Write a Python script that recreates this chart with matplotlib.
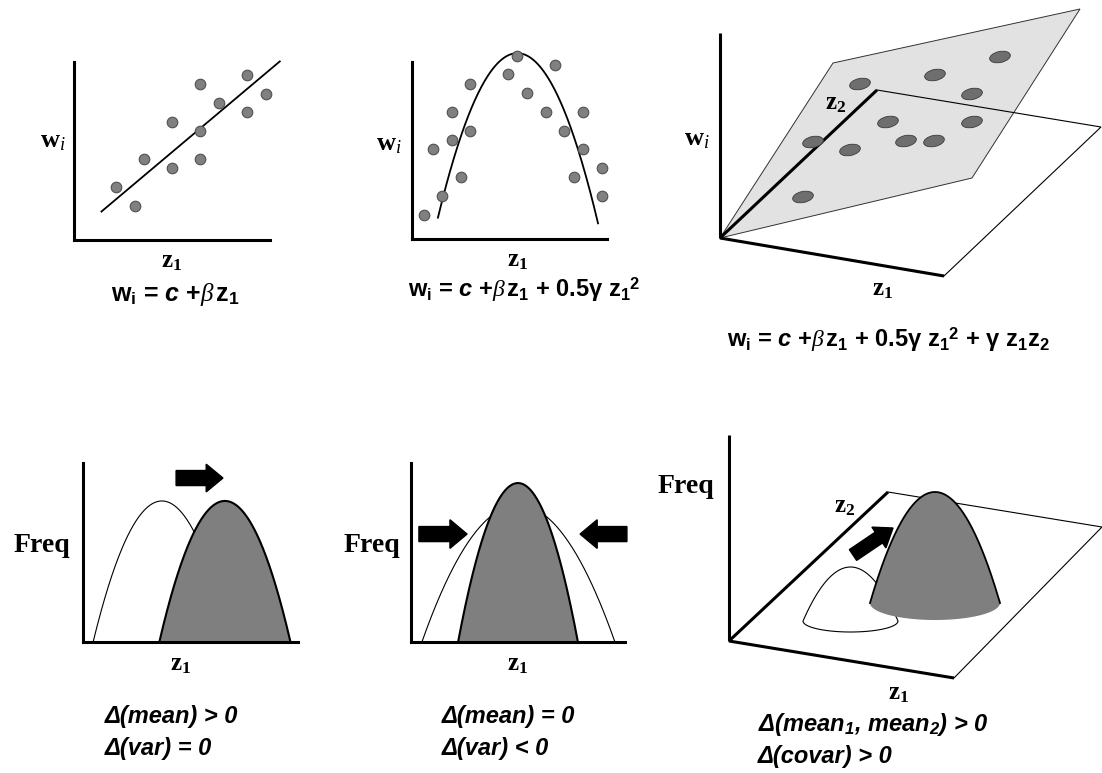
import numpy as np
import matplotlib.pyplot as plt
from matplotlib.patches import Polygon, Ellipse, FancyArrow

plt.rcParams['mathtext.fontset'] = 'custom'
plt.rcParams['mathtext.rm'] = 'Liberation Serif'
plt.rcParams['mathtext.it'] = 'Liberation Serif:italic'
plt.rcParams['mathtext.bf'] = 'Liberation Serif:bold'
plt.rcParams['mathtext.sf'] = 'Liberation Sans:italic:bold'

# ---- data ----
# linear selection: z1, w
lin_z1 = [2.14, 3.11, 3.57, 5.0, 5.0, 6.43, 6.43, 6.43, 7.40, 8.83, 8.83, 9.80]
lin_w = [2.98, 1.91, 4.55, 6.63, 4.04, 8.76, 6.12, 4.55, 7.70, 9.27, 7.19, 8.20]
lin_c, lin_beta = 0.30, 0.927
lin_span = [1.4, 10.5]

# quadratic (stabilising) selection
quad_z1 = [0.62, 1.08, 1.54, 2.05, 2.05, 2.51, 2.97, 2.97, 4.92, 5.38,
           5.90, 6.87, 7.33, 7.79, 8.77, 8.77, 8.31, 9.74, 9.74]
quad_w = [1.36, 5.08, 2.43, 7.18, 5.59, 3.50, 8.76, 6.10, 9.32, 10.34,
          8.25, 7.18, 9.83, 6.10, 7.18, 5.08, 3.50, 4.01, 2.43]
quad_peak_z, quad_peak_w, quad_curv = 5.4, 10.5, 0.561
quad_span = [1.33, 9.54]

# correlational selection: dots on the fitted surface (projected view)
surf_u = [140, 280, 215, 252, 168, 252, 93, 130, 186, 214, 83]
surf_v = [154, 181, 163, 144, 116, 116, 96, 88, 97, 97, 41]

# distributions: (centre, half width, height)
dir_before = (3.67, 3.2, 7.88)
dir_after = (6.6, 3.05, 7.88)
stab_before = (5.02, 4.51, 7.65)
stab_after = (5.0, 2.8, 8.88)
# 2D distributions in projected view: (centre u, half width, base v, height, base depth)
corr_before = (121.5, 47.5, 20, 54, 11)
corr_after = (206, 65, 38, 111, 17)

formulas = [r"w$_\mathregular{i}$ = $\mathsf{c}$ +$\beta\,$z$_\mathregular{1}$",
            r"w$_\mathregular{i}$ = $\mathsf{c}$ +$\beta\,$z$_\mathregular{1}$ + 0.5γ z$_\mathregular{1}$$^\mathregular{2}$",
            r"w$_\mathregular{i}$ = $\mathsf{c}$ +$\beta\,$z$_\mathregular{1}$ + 0.5γ z$_\mathregular{1}$$^\mathregular{2}$ + γ z$_\mathregular{1}$z$_\mathregular{2}$"]
changes = [["Δ(mean) > 0", "Δ(var) = 0"],
           ["Δ(mean) = 0", "Δ(var) < 0"],
           [r"Δ(mean$_\mathregular{1}$, mean$_\mathregular{2}$) > 0", "Δ(covar) > 0"]]

W, H = 1102, 773
fig = plt.figure(figsize=(W / 100, H / 100), dpi=100)

GRAY = '#7f7f7f'


def box(x0, y0, x1, y1):
    return fig.add_axes([x0 / W, 1 - y1 / H, (x1 - x0) / W, (y1 - y0) / H])


def label(px, py, s, **kw):
    kw.setdefault('ha', 'center')
    kw.setdefault('va', 'center')
    fig.text(px / W, 1 - py / H, s, **kw)


def plain_axes(ax):
    ax.set_xlim(0, 10)
    ax.set_ylim(0, 10)
    ax.set_xticks([])
    ax.set_yticks([])
    ax.patch.set_alpha(0)
    for s in ['top', 'right']:
        ax.spines[s].set_visible(False)
    for s in ['left', 'bottom']:
        ax.spines[s].set_linewidth(2.2)


def hump(c, hw, h, n=200):
    x = np.linspace(c - hw, c + hw, n)
    return x, h * (1 - ((x - c) / hw) ** 2)


def serif(px, py, s, size=18):
    label(px, py, s, fontsize=size)


def formula(px, py, s, size=17):
    label(px, py, s, family='Liberation Sans', weight='bold', fontsize=size)


def change_text(px, py, lines, gap=31):
    for i, s in enumerate(lines):
        label(px, py + i * gap, s, ha='left', family='Liberation Sans',
              weight='bold', style='italic', fontsize=17)


dot_kw = dict(s=58, c='#808080', edgecolors='#505050', linewidths=0.8,
              zorder=3, clip_on=False)

# ---- panel 1: linear ----
ax = box(74, 62, 270, 240)
plain_axes(ax)
ax.scatter(lin_z1, lin_w, **dot_kw)
zz = np.array(lin_span)
ax.plot(zz, lin_c + lin_beta * zz, color='k', lw=1.3, clip_on=False)
serif(53, 140, r"$\mathbf{w}_i$", 19)
serif(172, 261, r"$\mathbf{z}_\mathbf{1}$")
formula(175, 295, formulas[0], 18)

# ---- panel 2: quadratic ----
ax = box(412, 62, 607, 239)
plain_axes(ax)
ax.scatter(quad_z1, quad_w, **dot_kw)
zz = np.linspace(*quad_span, 200)
ax.plot(zz, quad_peak_w - quad_curv * (zz - quad_peak_z) ** 2, color='k',
        lw=1.3, clip_on=False)
serif(389, 143, r"$\mathbf{w}_i$", 19)
serif(518, 260, r"$\mathbf{z}_\mathbf{1}$")
formula(524, 290, formulas[1])

# ---- panel 3: correlational surface ----
ax = box(690, 0, 1102, 300)
ax.set_xlim(-30, 382)
ax.set_ylim(-62, 238)
ax.axis('off')
ax.add_patch(Polygon([(0, 0), (113, 175), (360, 229), (252, 60)],
                     closed=True, fc='#e2e2e2', ec='#333333', lw=0.7))
ax.add_patch(Polygon([(0, 0), (224, -38), (381, 111), (157, 148)],
                     closed=True, fill=False, ec='k', lw=0.8))
ax.plot([0, 0], [0, 205], color='k', lw=2.2, solid_capstyle='butt')
ax.plot([0, 224], [0, -38], color='k', lw=2.2, solid_capstyle='butt')
ax.plot([0, 157], [0, 148], color='k', lw=2.2, solid_capstyle='butt')
for u, v in zip(surf_u, surf_v):
    ax.add_patch(Ellipse((u, v), 21, 11, angle=12, fc='#6e6e6e', ec='#3a3a3a',
                         lw=0.6, zorder=3))
serif(697, 138, r"$\mathbf{w}_i$", 19)
serif(836, 103, r"$\mathbf{z}_\mathbf{2}$")
serif(883, 289, r"$\mathbf{z}_\mathbf{1}$")
formula(888, 340, formulas[2])

# ---- panel 4: directional ----
ax = box(83, 463, 298, 642)
plain_axes(ax)
x, y = hump(*dir_before)
ax.plot(x, y, color='k', lw=0.8, zorder=1)
x, y = hump(*dir_after)
ax.fill_between(x, 0, y, fc=GRAY, ec='none', zorder=2)
ax.plot(x, y, color='k', lw=1.5, zorder=3)
ax.add_patch(FancyArrow(4.33, 9.16, 2.18, 0, width=0.84, head_width=1.55,
                        head_length=0.78, length_includes_head=True,
                        color='k', clip_on=False))
label(42, 546, "Freq", family='Liberation Serif', weight='bold', fontsize=20)
serif(181, 664, r"$\mathbf{z}_\mathbf{1}$")
change_text(105, 717, changes[0])

# ---- panel 5: stabilising ----
ax = box(411, 463, 625, 642)
plain_axes(ax)
x, y = hump(*stab_before)
ax.plot(x, y, color='k', lw=0.8, zorder=1)
x, y = hump(*stab_after)
ax.fill_between(x, 0, y, fc=GRAY, ec='none', zorder=2)
ax.plot(x, y, color='k', lw=1.5, zorder=3)
for x0, dx in [(0.37, 2.25), (10.09, -2.19)]:
    ax.add_patch(FancyArrow(x0, 6.03, dx, 0, width=0.84, head_width=1.6,
                            head_length=0.8, length_includes_head=True,
                            color='k', clip_on=False))
label(372, 546, "Freq", family='Liberation Serif', weight='bold', fontsize=20)
serif(518, 664, r"$\mathbf{z}_\mathbf{1}$")
change_text(442, 717, changes[1])

# ---- panel 6: correlational ----
ax = box(690, 420, 1102, 773)
ax.set_xlim(-39, 373)
ax.set_ylim(-132, 221)
ax.axis('off')
ax.add_patch(Polygon([(0, 0), (225, -37), (373, 114), (159, 149)],
                     closed=True, fill=False, ec='k', lw=0.8))
ax.plot([0, 0], [0, 206], color='k', lw=2.2, solid_capstyle='butt')
ax.plot([0, 225], [0, -37], color='k', lw=2.2, solid_capstyle='butt')
ax.plot([0, 159], [0, 149], color='k', lw=2.2, solid_capstyle='butt')


def mound(c, hw, base, h, depth):
    x = np.linspace(c - hw, c + hw, 200)
    top = base + h * (1 - ((x - c) / hw) ** 2)
    t = np.linspace(0, np.pi, 100)
    bx = c + hw * np.cos(t)
    by = base - depth * np.sin(t)
    return x, top, np.concatenate([x, bx]), np.concatenate([top, by])


x, top, px_, py_ = mound(*corr_before)
ax.add_patch(Polygon(np.column_stack([px_, py_]), closed=True, fc='white',
                     ec='k', lw=0.8, zorder=2))
x, top, px_, py_ = mound(*corr_after)
ax.add_patch(Polygon(np.column_stack([px_, py_]), closed=True, fc=GRAY,
                     ec='none', zorder=3))
ax.plot(x, top, color='k', lw=1.3, zorder=4)
ax.add_patch(FancyArrow(124, 86, 40, 27, width=13, head_width=25,
                        head_length=17, length_includes_head=True,
                        color='k', zorder=4))
label(686, 487, "Freq", family='Liberation Serif', weight='bold', fontsize=20)
serif(845, 506, r"$\mathbf{z}_\mathbf{2}$")
serif(899, 693, r"$\mathbf{z}_\mathbf{1}$")
change_text(758, 725, changes[2], gap=32)

fig.savefig('out.png', dpi=100)
